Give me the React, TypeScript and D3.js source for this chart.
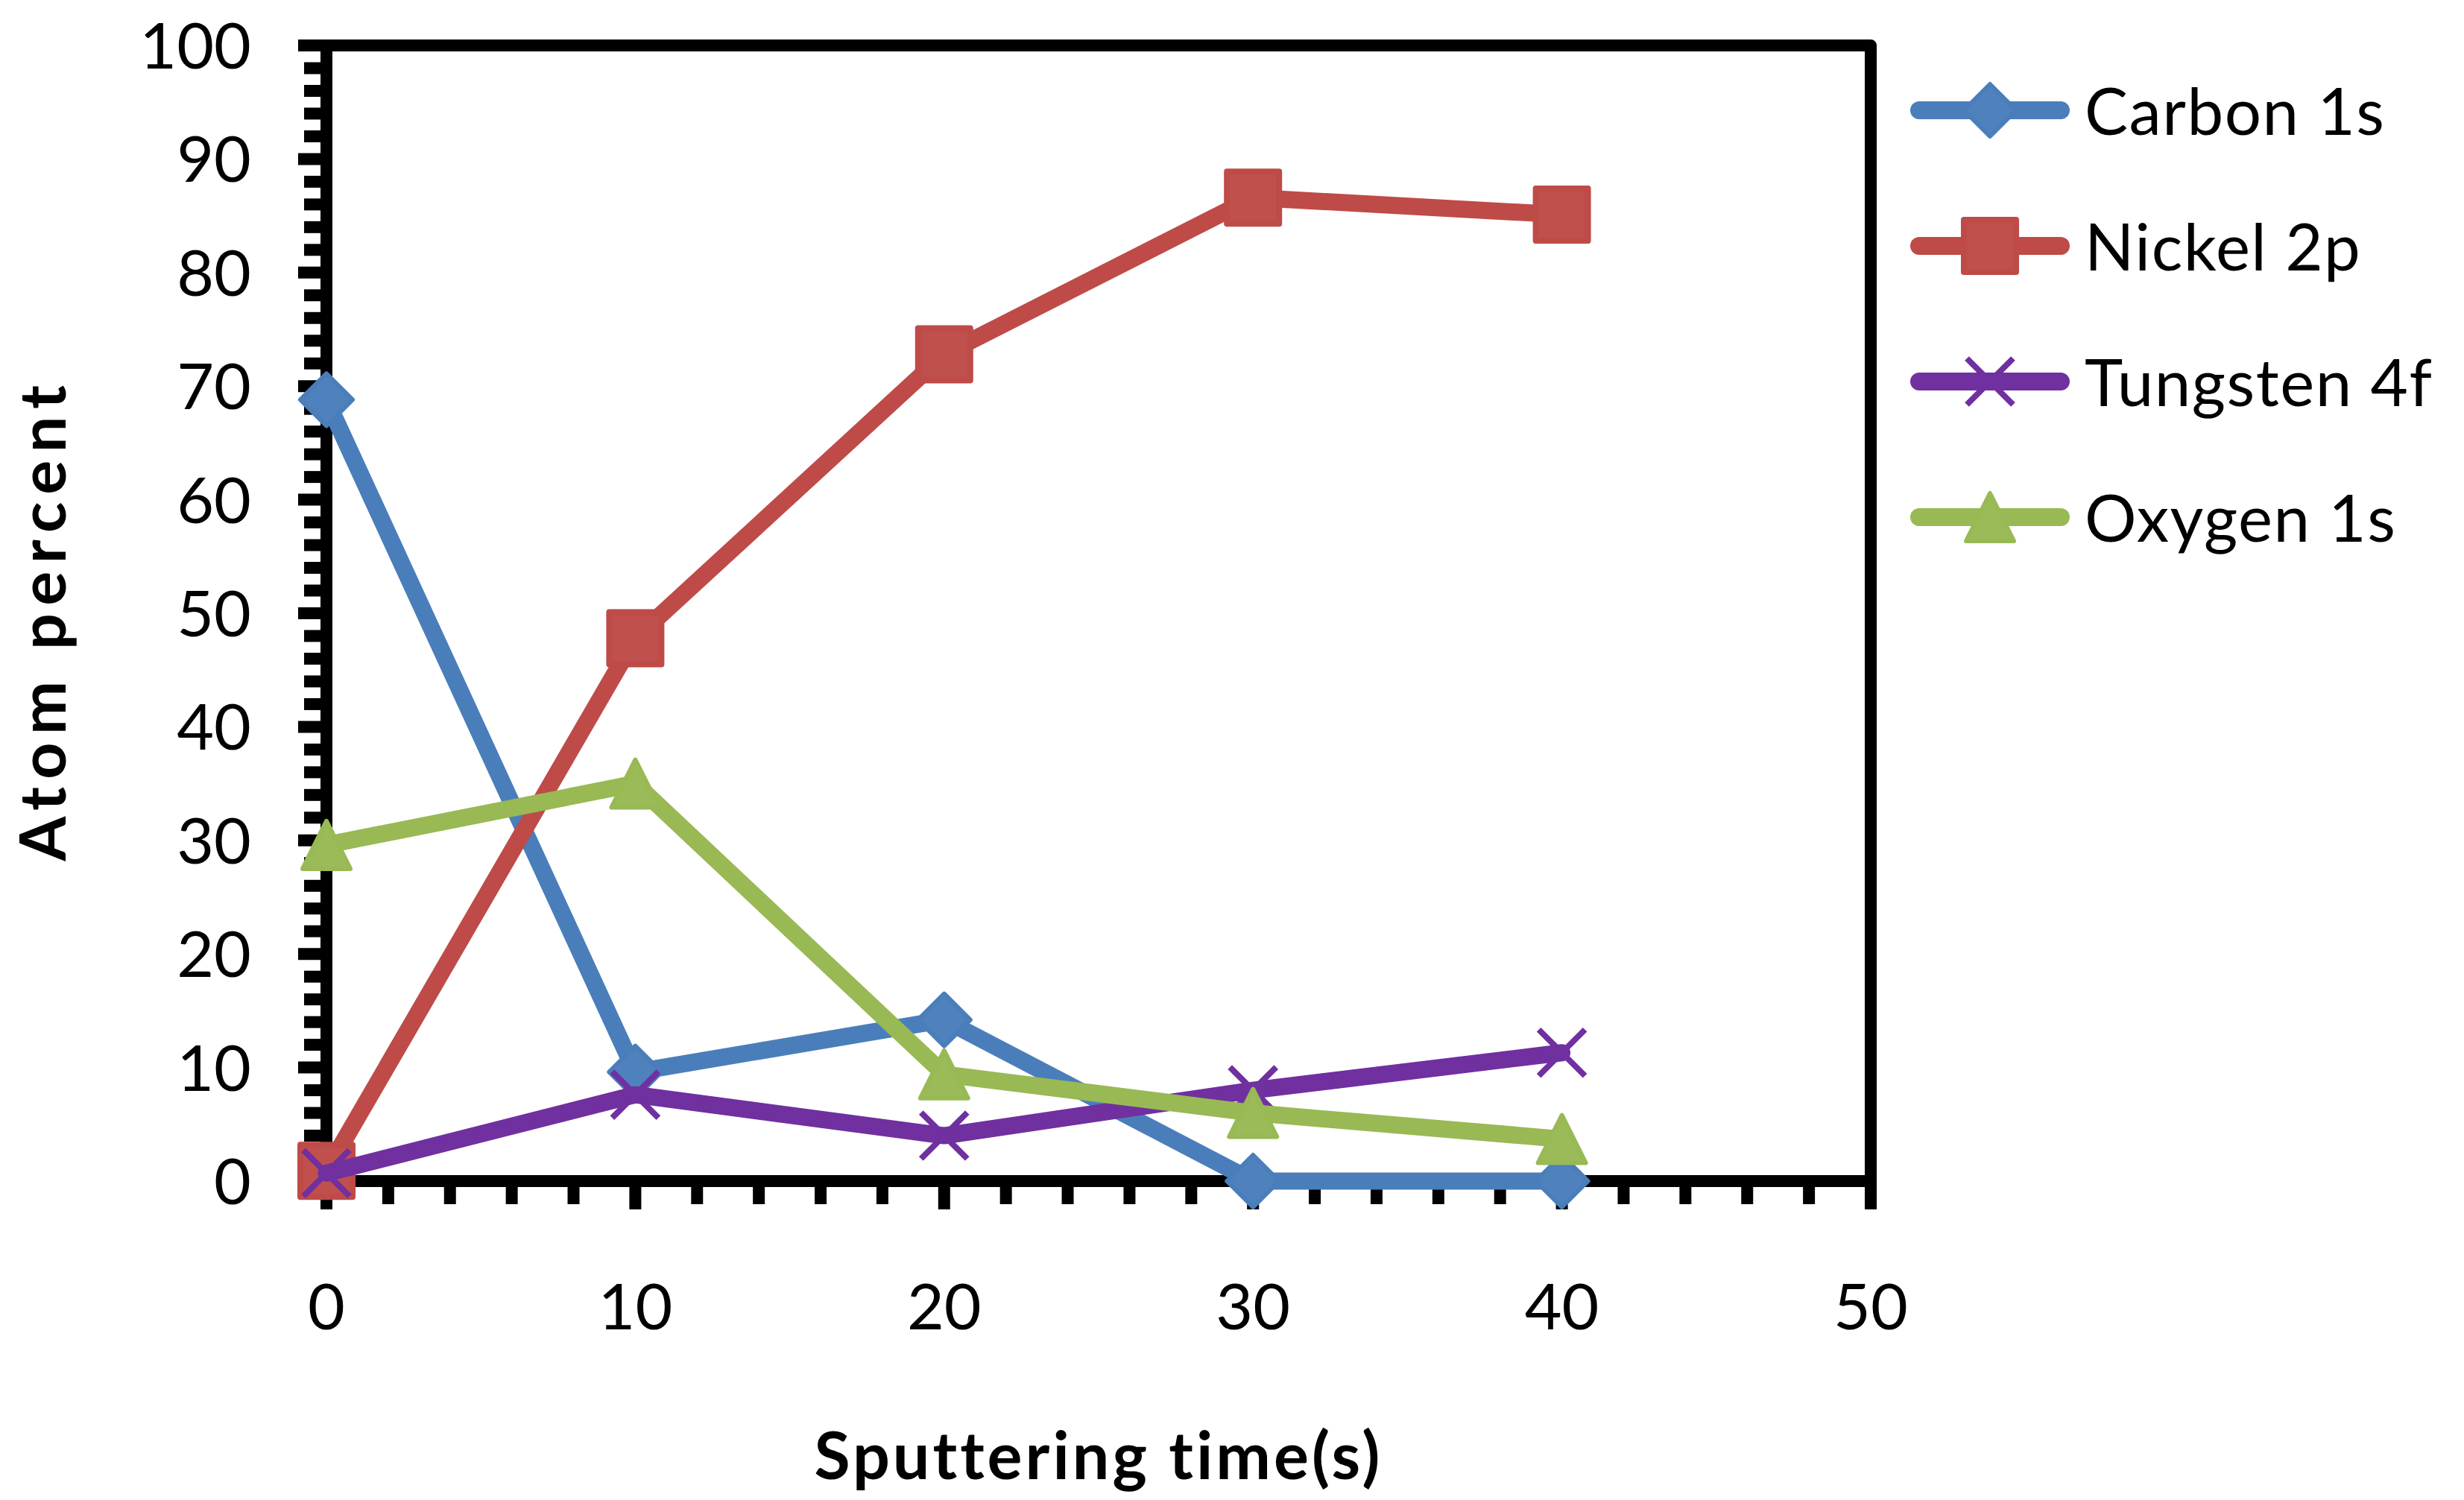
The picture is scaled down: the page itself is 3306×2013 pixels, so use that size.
import React, { useEffect } from 'react';
import * as d3 from 'd3';

// sputtering time (s)
const times = [0, 10, 20, 30, 40];

const carbon = [68.8, 9.6, 14.2, 0, 0];
const nickel = [0.9, 47.8, 72.8, 86.6, 85.1];
const tungsten = [0.7, 7.6, 4.0, 8.0, 11.3];
const oxygen = [29.6, 35.0, 9.4, 6.0, 3.7];

const seriesNames = ['Carbon 1s', 'Nickel 2p', 'Tungsten 4f', 'Oxygen 1s'];
const seriesValues = [carbon, nickel, tungsten, oxygen];

const xTickLabels = [0, 10, 20, 30, 40, 50];
const yTickLabels = [0, 10, 20, 30, 40, 50, 60, 70, 80, 90, 100];

const W = 3306;
const H = 2013;
const FONT = 'Lato, Carlito, Calibri, sans-serif';

const styles = [
  { line: '#4A7EBB', fill: '#4F81BD', stroke: '#4A7EBB', marker: 'diamond' },
  { line: '#BE4B48', fill: '#C0504D', stroke: '#BE4B48', marker: 'square' },
  { line: '#7030A0', fill: 'none', stroke: '#7030A0', marker: 'x' },
  { line: '#98B954', fill: '#9BBB59', stroke: '#98B954', marker: 'triangle' },
];

const Marker: React.FC<{ kind: string; cx: number; cy: number; fill: string; stroke: string }> = ({ kind, cx, cy, fill, stroke }) => {
  if (kind === 'diamond') {
    const r = 35;
    return (
      <path
        d={`M${cx},${cy - r}L${cx + r},${cy}L${cx},${cy + r}L${cx - r},${cy}Z`}
        fill={fill}
        stroke={stroke}
        strokeWidth={6}
        strokeLinejoin="round"
      />
    );
  }
  if (kind === 'square') {
    const s = 70;
    return (
      <rect x={cx - s / 2} y={cy - s / 2} width={s} height={s} fill={fill} stroke={stroke} strokeWidth={8} strokeLinejoin="round" />
    );
  }
  if (kind === 'triangle') {
    const hw = 32;
    const hh = 32;
    return (
      <path
        d={`M${cx},${cy - hh}L${cx + hw},${cy + hh}L${cx - hw},${cy + hh}Z`}
        fill={fill}
        stroke={stroke}
        strokeWidth={6}
        strokeLinejoin="round"
      />
    );
  }
  const r = 31;
  return (
    <path
      d={`M${cx - r},${cy - r}L${cx + r},${cy + r}M${cx + r},${cy - r}L${cx - r},${cy + r}`}
      fill="none"
      stroke={stroke}
      strokeWidth={8}
    />
  );
};

export default function App() {
  useEffect(() => {
    document.body.style.margin = '0';
  }, []);

  const left = 438;
  const right = 2510;
  const top = 61;
  const bottom = 1585;

  const x = d3.scaleLinear().domain([0, 50]).range([left, right]);
  const y = d3.scaleLinear().domain([0, 100]).range([bottom, top]);

  const line = d3
    .line<number>()
    .x((_, i) => x(times[i]))
    .y((d) => y(d));

  const yMinor = d3.range(0, 101, 2);
  const xMinor = d3.range(0, 51, 2);

  const legendX0 = 2563;
  const legendX1 = 2777;
  const legendY0 = 148;
  const legendStep = 182;

  return (
    <svg width={W} height={H} style={{ display: 'block', background: '#fff' }} fontFamily={FONT}>
      <rect x={0} y={0} width={W} height={H} fill="#fff" />

      {/* ticks */}
      {yMinor.map((v) => (
        <line
          key={'yt' + v}
          x1={v % 10 === 0 ? left - 38 : left - 30}
          x2={left}
          y1={y(v)}
          y2={y(v)}
          stroke="#000"
          strokeWidth={16}
        />
      ))}
      {xMinor.map((v) => (
        <line
          key={'xt' + v}
          x1={x(v)}
          x2={x(v)}
          y1={bottom}
          y2={v % 10 === 0 ? bottom + 38 : bottom + 31}
          stroke="#000"
          strokeWidth={16}
        />
      ))}

      {/* frame */}
      <rect
        x={left}
        y={top}
        width={right - left}
        height={bottom - top}
        fill="none"
        stroke="#000"
        strokeWidth={16}
        strokeLinejoin="round"
      />

      {/* tick labels */}
      {yTickLabels.map((v) => (
        <text key={'yl' + v} x={337} y={y(v) + 31} textAnchor="end" fontSize={86} fill="#000">
          {v}
        </text>
      ))}
      {xTickLabels.map((v) => (
        <text key={'xl' + v} x={x(v)} y={1784} textAnchor="middle" fontSize={86} fill="#000">
          {v}
        </text>
      ))}

      {/* series */}
      {seriesValues.map((vals, si) => (
        <g key={'s' + si}>
          <path
            d={line(vals) || ''}
            fill="none"
            stroke={styles[si].line}
            strokeWidth={23}
            strokeLinejoin="round"
            strokeLinecap="round"
          />
          {vals.map((v, i) => (
            <Marker
              key={i}
              kind={styles[si].marker}
              cx={x(times[i])}
              cy={y(v)}
              fill={styles[si].fill}
              stroke={styles[si].stroke}
            />
          ))}
        </g>
      ))}

      {/* axis titles */}
      <text
        transform={`translate(88,${(top + bottom) / 2 + 8}) rotate(-90)`}
        textAnchor="middle"
        fontSize={86}
        fontWeight="bold"
        letterSpacing={10.5}
        fill="#000"
      >
        Atom percent
      </text>
      <text
        x={(left + right) / 2}
        y={1985}
        textAnchor="middle"
        fontSize={88}
        fontWeight="bold"
        letterSpacing={4}
        fill="#000"
      >
        Sputtering time(s)
      </text>

      {/* legend */}
      {seriesNames.map((name, i) => {
        const ly = legendY0 + i * legendStep;
        return (
          <g key={'lg' + i}>
            <line
              x1={legendX0 + 12}
              x2={legendX1 - 12}
              y1={ly}
              y2={ly}
              stroke={styles[i].line}
              strokeWidth={24}
              strokeLinecap="round"
            />
            <Marker kind={styles[i].marker} cx={(legendX0 + legendX1) / 2} cy={ly} fill={styles[i].fill} stroke={styles[i].stroke} />
            <text x={2797} y={ly + 33} fontSize={87} letterSpacing={1.5} fill="#000">
              {name}
            </text>
          </g>
        );
      })}
    </svg>
  );
}
